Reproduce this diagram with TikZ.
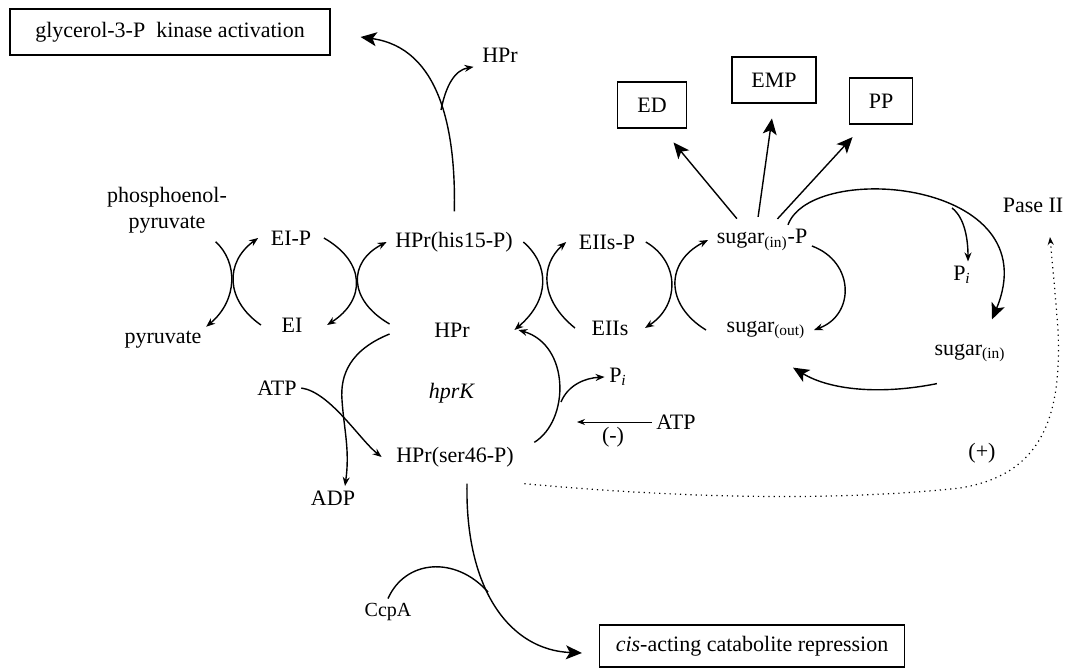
\documentclass[tikz,border=0pt]{standalone}
\usepackage{fontspec}
\setmainfont{Liberation Serif}
\usetikzlibrary{arrows.meta}

\begin{document}
\begin{tikzpicture}[x=0.5pt,y=-0.5pt,line width=0.7pt,
    rxn/.style={-{Stealth[length=4.5pt,width=3.5pt]}},
    bigrxn/.style={-{Stealth[length=8pt,width=7pt,inset=2pt]}},
    pathway/.style={draw,line width=0.6pt,minimum height=23pt,inner sep=2pt}]
    \tikzstyle{every node}=[font=\fontsize{11}{13}\selectfont,inner sep=2pt]
    \useasboundingbox (0,0) rectangle (1069,668);

    \node[pathway,minimum width=160pt] (glyc) at (170,32) {glycerol-3-P\ \ kinase activation};
    \node (hprtop) at (500,55) {HPr};
    \node[pathway,minimum width=34.5pt] (ed) at (652,105) {ED};
    \node[pathway,minimum width=42pt] (emp) at (774,80) {EMP};
    \node[pathway,minimum width=31.5pt] (pp) at (881,101) {PP};
    \node[pathway,minimum width=152.5pt,minimum height=21pt] (cis) at (752,646)
        {\textit{cis}-acting catabolite repression};

    \node[align=center] (pep) at (167,210) {phosphoenol-\\pyruvate};
    \node (pyr) at (163,340) {pyruvate};
    \node (eip) at (291,238) {EI-P};
    \node (ei) at (292,325) {EI};
    \node (hprh) at (454,242) {HPr(his15-P)};
    \node (hpr) at (452,330) {HPr};
    \node (eiisp) at (607,242) {EIIs-P};
    \node (eiis) at (610,328) {EIIs};
    \node (sugp) at (762,240) {sugar\textsubscript{(in)}-P};
    \node (sugo) at (766,330) {sugar\textsubscript{(out)}};
    \node (sugi) at (970,353) {sugar\textsubscript{(in)}};
    \node (pase) at (1033,205) {Pase II};
    \node (pia) at (962,275) {P\textsubscript{\textit{i}}};
    \node (atpa) at (277,388) {ATP};
    \node (hprk) at (452,393) {\textit{hprK}};
    \node (pib) at (618,377) {P\textsubscript{\textit{i}}};
    \node (atpb) at (676,422) {ATP};
    \node (minus) at (613,437) {(-)};
    \node (hprs) at (455,457) {HPr(ser46-P)};
    \node (adp) at (333,498) {ADP};
    \node (plus) at (982,453) {(+)};
    \node[font=\fontsize{10}{12}\selectfont] (ccpa) at (388,612) {CcpA};

    \coordinate (brtop) at (441,110);
    \coordinate (brpi) at (952,208);
    \coordinate (brpib) at (561,402);
    \coordinate (brccpa) at (488,592);
    \coordinate (inhib) at (577,422);

    \draw[bigrxn,shorten <=8pt] (hprh.north) .. controls (456,130) and (440,48) .. ([shift={(15pt,-2.5pt)}]glyc.east);
    \draw[rxn] (brtop) .. controls (446,85) and (455,70) .. ([xshift=-2pt]hprtop.south west);

    \draw[rxn] ([shift={(-8pt,-2pt)}]pep.south east) .. controls (238,262) and (238,300) .. (pyr.north east);
    \draw[rxn] ([xshift=-8pt]ei.west) .. controls (225,300) and (225,262) .. ([xshift=-4pt]eip.west);
    \draw[rxn] ([xshift=4pt]eip.east) .. controls (366,262) and (366,300) .. ([xshift=10pt]ei.east);
    \draw[rxn] ([xshift=-20pt,yshift=3pt]hpr.west) .. controls (348,300) and (348,262) .. ([xshift=-2pt]hprh.west);
    \draw[rxn] ([xshift=3pt]hprh.east) .. controls (550,265) and (550,300) .. ([xshift=20pt]hpr.east);
    \draw[rxn] ([xshift=-6pt]eiis.west) .. controls (540,300) and (540,265) .. ([xshift=-4pt]eiisp.west);
    \draw[rxn] ([xshift=3pt]eiisp.east) .. controls (680,262) and (680,305) .. ([xshift=6pt]eiis.east);
    \draw[rxn] ([xshift=-8pt]sugo.west) .. controls (665,305) and (665,262) .. ([xshift=-2pt]sugp.west);
    \draw[rxn] ([yshift=-3pt]sugp.east) .. controls (855,262) and (855,315) .. ([xshift=2pt]sugo.east);

    \draw[bigrxn,shorten <=4pt,shorten >=9pt] ([xshift=-10pt]sugp.north) -- ([xshift=5pt]ed.south);
    \draw[bigrxn,shorten <=4pt,shorten >=7.5pt] ([xshift=-2.5pt]sugp.north) -- (emp.south);
    \draw[bigrxn,shorten <=4pt,shorten >=8.5pt] ([xshift=5pt]sugp.north) -- ([xshift=-8.5pt]pp.south);

    \draw[bigrxn] ([xshift=13pt]sugp.north) .. controls (812,160) and (1050,180) .. ([shift={(11pt,10pt)}]sugi.north);
    \draw[rxn] (brpi) .. controls (965,218) and (968,240) .. ([xshift=3pt]pia.north);
    \draw[bigrxn] ([shift={(3.5pt,-8.5pt)}]sugi.south west) .. controls (880,395) and (830,390) .. ([shift={(13.5pt,-12pt)}]sugo.south);

    \draw[rxn] ([xshift=8pt]hprs.north east) .. controls (570,420) and (570,345) .. ([xshift=22pt]hpr.east);
    \draw[rxn] (brpib) .. controls (568,385) and (585,378) .. (pib.west);
    \draw[line width=0.4pt,-{Stealth[length=4pt,width=3pt]}] (atpb.west) -- (inhib);

    \draw[rxn] ([xshift=-20pt,yshift=-2pt]hpr.west) .. controls (350,350) and (340,375) .. (342,400)
        .. controls (344,430) and (350,450) .. ([xshift=6pt]adp.north);
    \draw[rxn] (atpa.east) .. controls (330,392) and (360,440) .. ([xshift=-5pt]hprs.west);

    \draw[bigrxn] ([shift={(6pt,-6pt)}]hprs.south) .. controls (465,590) and (510,650) .. ([shift={(-8.5pt,-3.5pt)}]cis.west);
    \draw (ccpa.north) .. controls (405,560) and (455,555) .. (brccpa);

    \draw[dotted,line width=0.6pt,-{Stealth[length=4pt,width=3pt]}] ([shift={(3pt,-6pt)}]hprs.south east)
        .. controls (700,500) and (850,500) .. (960,488)
        .. controls (1040,475) and (1062,420) .. (1058,330)
        .. controls (1055,290) and (1052,260) .. ([shift={(8.5pt,-10pt)}]pase.south);
\end{tikzpicture}
\end{document}
